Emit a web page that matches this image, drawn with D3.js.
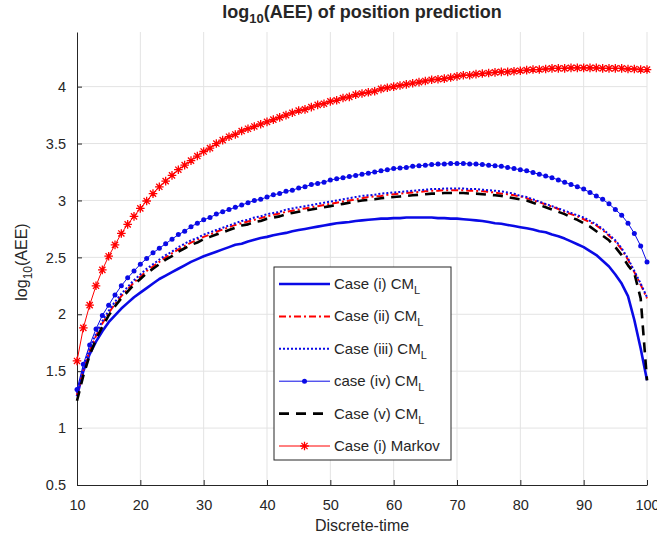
<!DOCTYPE html>
<html>
<head>
<meta charset="utf-8">
<script src="https://cdn.jsdelivr.net/npm/d3@7"></script>
<style>
body { margin: 0; background: #fff; }
text { font-family: "Liberation Sans", Arial, sans-serif; fill: #262626; }
</style>
</head>
<body>
<div id="chart-area"></div>
<script>
// time steps
var steps = [10,11,12,13,14,15,16,17,18,19,20,21,22,23,24,25,26,27,28,29,30,
  31,32,33,34,35,36,37,38,39,40,41,42,43,44,45,46,47,48,49,50,
  51,52,53,54,55,56,57,58,59,60,61,62,63,64,65,66,67,68,69,70,
  71,72,73,74,75,76,77,78,79,80,81,82,83,84,85,86,87,88,89,90,
  91,92,93,94,95,96,97,98,99,100];

var caseI = [1.28,1.50,1.65,1.76,1.85,1.93,1.99,2.05,2.10,2.15,2.19,
  2.23,2.27,2.31,2.34,2.37,2.40,2.43,2.46,2.485,2.51,
  2.53,2.55,2.57,2.59,2.61,2.62,2.64,2.655,2.67,2.68,
  2.695,2.705,2.715,2.73,2.74,2.75,2.76,2.77,2.78,2.79,
  2.80,2.805,2.81,2.82,2.825,2.83,2.835,2.84,2.84,2.845,
  2.845,2.85,2.85,2.85,2.85,2.85,2.845,2.845,2.84,2.84,
  2.835,2.83,2.825,2.82,2.81,2.80,2.795,2.785,2.775,2.765,
  2.755,2.745,2.73,2.72,2.70,2.685,2.665,2.64,2.615,2.59,
  2.555,2.52,2.47,2.42,2.35,2.27,2.16,1.95,1.70,1.42];

var caseII = [1.29,1.51,1.68,1.81,1.92,2.01,2.09,2.16,2.22,2.28,2.33,
  2.38,2.42,2.46,2.50,2.535,2.57,2.60,2.63,2.655,2.68,
  2.70,2.725,2.745,2.765,2.785,2.80,2.815,2.83,2.845,2.86,
  2.875,2.885,2.90,2.91,2.92,2.93,2.94,2.95,2.96,2.97,
  2.98,2.99,3.00,3.01,3.02,3.03,3.035,3.04,3.05,3.055,
  3.06,3.065,3.07,3.075,3.08,3.085,3.085,3.09,3.09,3.09,
  3.09,3.085,3.085,3.08,3.075,3.07,3.06,3.055,3.045,3.035,
  3.02,3.00,2.985,2.965,2.945,2.925,2.90,2.88,2.86,2.835,
  2.81,2.78,2.74,2.69,2.64,2.57,2.48,2.37,2.26,2.14];

var caseIII = [1.31,1.53,1.70,1.83,1.94,2.03,2.11,2.18,2.24,2.30,2.35,
  2.40,2.44,2.48,2.52,2.55,2.59,2.62,2.65,2.67,2.70,
  2.72,2.74,2.76,2.78,2.80,2.82,2.83,2.85,2.86,2.88,
  2.89,2.90,2.92,2.93,2.94,2.95,2.96,2.97,2.98,2.99,
  3.00,3.01,3.02,3.03,3.04,3.045,3.05,3.06,3.065,3.07,
  3.075,3.08,3.085,3.09,3.095,3.10,3.10,3.105,3.105,3.105,
  3.105,3.10,3.10,3.095,3.09,3.085,3.08,3.07,3.06,3.04,
  3.03,3.01,2.99,2.97,2.95,2.93,2.91,2.89,2.87,2.85,
  2.82,2.79,2.75,2.70,2.65,2.58,2.49,2.38,2.27,2.15];

var caseIV = [1.34,1.56,1.73,1.87,1.99,2.08,2.17,2.25,2.32,2.38,2.44,
  2.49,2.54,2.58,2.62,2.66,2.70,2.73,2.77,2.80,2.83,
  2.85,2.88,2.90,2.92,2.94,2.96,2.98,3.00,3.01,3.03,
  3.05,3.06,3.08,3.09,3.11,3.12,3.14,3.15,3.16,3.18,
  3.19,3.20,3.21,3.22,3.23,3.24,3.25,3.26,3.27,3.28,
  3.285,3.29,3.30,3.305,3.31,3.315,3.32,3.32,3.325,3.325,
  3.325,3.32,3.32,3.315,3.31,3.305,3.30,3.29,3.28,3.27,
  3.26,3.245,3.23,3.215,3.20,3.18,3.16,3.14,3.12,3.10,
  3.07,3.04,3.01,2.97,2.92,2.87,2.80,2.71,2.60,2.46];

var caseV = [1.24,1.46,1.64,1.78,1.89,1.99,2.07,2.14,2.20,2.26,2.31,
  2.36,2.40,2.44,2.48,2.51,2.55,2.58,2.61,2.63,2.66,
  2.68,2.70,2.72,2.74,2.76,2.78,2.79,2.81,2.82,2.84,
  2.85,2.86,2.88,2.89,2.90,2.91,2.92,2.93,2.94,2.95,
  2.96,2.97,2.98,2.99,3.00,3.005,3.01,3.02,3.025,3.03,
  3.035,3.04,3.045,3.05,3.055,3.06,3.06,3.065,3.065,3.065,
  3.065,3.06,3.06,3.055,3.05,3.045,3.04,3.03,3.02,3.01,
  3.00,2.98,2.96,2.94,2.92,2.90,2.88,2.85,2.83,2.80,
  2.77,2.73,2.69,2.65,2.59,2.52,2.43,2.36,2.14,1.42];

var markov = [1.59,1.88,2.08,2.25,2.39,2.51,2.61,2.71,2.79,2.86,2.93,
  2.995,3.06,3.12,3.17,3.22,3.27,3.31,3.35,3.39,3.43,
  3.46,3.50,3.53,3.56,3.58,3.61,3.63,3.65,3.67,3.69,
  3.71,3.73,3.75,3.77,3.79,3.80,3.82,3.84,3.85,3.87,
  3.88,3.90,3.91,3.93,3.94,3.95,3.96,3.98,3.99,4.00,
  4.01,4.02,4.03,4.04,4.05,4.06,4.065,4.07,4.08,4.09,
  4.10,4.10,4.11,4.115,4.12,4.125,4.13,4.13,4.135,4.14,
  4.145,4.15,4.15,4.155,4.16,4.16,4.16,4.165,4.165,4.165,
  4.165,4.165,4.16,4.16,4.16,4.16,4.155,4.155,4.15,4.15];

var xTicks = [10,20,30,40,50,60,70,80,90,100];
var yTicks = [0.5,1,1.5,2,2.5,3,3.5,4];

var blue = "#0a0ae6", red = "#ff0000";

var series = [
  {name: "Case (i) CM", sub: "L", values: caseI, color: blue, width: 2.6, dash: null, marker: null},
  {name: "Case (ii) CM", sub: "L", values: caseII, color: red, width: 2, dash: "7,3,2,3", marker: null},
  {name: "Case (iii) CM", sub: "L", values: caseIII, color: blue, width: 2, dash: "2,2", marker: null},
  {name: "case (iv) CM", sub: "L", values: caseIV, color: blue, width: 1, dash: null, marker: "dot"},
  {name: "Case (v) CM", sub: "L", values: caseV, color: "#000", width: 2.6, dash: "10,7", marker: null},
  {name: "Case (i) Markov", sub: "", values: markov, color: red, width: 1, dash: null, marker: "star"}
];

var margin = {top: 32, right: 10, bottom: 60, left: 77};
var width = 657 - margin.left - margin.right;
var height = 545 - margin.top - margin.bottom;

var svg = d3.select("#chart-area").append("svg")
  .attr("width", 657)
  .attr("height", 545);

var g = svg.append("g")
  .attr("transform", "translate(" + margin.left + "," + margin.top + ")");

var xscale = d3.scaleLinear().domain([10, 100]).range([0, width]);
var yscale = d3.scaleLinear().domain([0.5, 4.48]).range([height, 0]);

// grid
g.selectAll(".vgrid").data(xTicks.slice(1)).enter().append("line")
  .attr("x1", function(d){ return xscale(d); })
  .attr("x2", function(d){ return xscale(d); })
  .attr("y1", 0).attr("y2", height)
  .attr("stroke", "#e3e3e3").attr("stroke-width", 1);

g.selectAll(".hgrid").data(yTicks.slice(1)).enter().append("line")
  .attr("x1", 0).attr("x2", width)
  .attr("y1", function(d){ return yscale(d); })
  .attr("y2", function(d){ return yscale(d); })
  .attr("stroke", "#e3e3e3").attr("stroke-width", 1);

// axes
var bottomaxis = d3.axisBottom(xscale).tickValues(xTicks).tickSizeInner(-5).tickSizeOuter(0).tickPadding(15);
var leftaxis = d3.axisLeft(yscale).tickValues(yTicks).tickSizeInner(-5).tickSizeOuter(0).tickPadding(11)
  .tickFormat(function(d){ return String(d); });

var xg = g.append("g").attr("transform", "translate(0," + height + ")").call(bottomaxis);
var yg = g.append("g").call(leftaxis);
[xg, yg].forEach(function(a){
  a.select(".domain").attr("stroke", "#262626");
  a.selectAll(".tick line").attr("stroke", "#262626");
  a.selectAll(".tick text").style("font-size", "14.5px").attr("fill", "#333")
    .style("font-family", "'Liberation Sans', Arial, sans-serif");
});

// curves
var line = d3.line()
  .x(function(d, i){ return xscale(steps[i]); })
  .y(function(d){ return yscale(d); });

function starPath(r) {
  var k = r * 0.72;
  return "M0," + (-r) + "V" + r + "M" + (-r) + ",0H" + r +
    "M" + (-k) + "," + (-k) + "L" + k + "," + k + "M" + (-k) + "," + k + "L" + k + "," + (-k);
}

series.forEach(function(s){
  g.append("path")
    .attr("d", line(s.values))
    .attr("fill", "none")
    .attr("stroke", s.color)
    .attr("stroke-width", s.width)
    .attr("stroke-dasharray", s.dash)
    .attr("stroke-linejoin", "round");

  if (s.marker == "dot") {
    g.selectAll(null).data(s.values).enter().append("circle")
      .attr("cx", function(d, i){ return xscale(steps[i]); })
      .attr("cy", function(d){ return yscale(d); })
      .attr("r", 2.5)
      .attr("fill", s.color);
  } else if (s.marker == "star") {
    g.selectAll(null).data(s.values).enter().append("path")
      .attr("d", starPath(4.3))
      .attr("transform", function(d, i){ return "translate(" + xscale(steps[i]) + "," + yscale(d) + ")"; })
      .attr("fill", "none")
      .attr("stroke", s.color)
      .attr("stroke-width", 1.3);
  }
});

// legend
var legend = svg.append("g").attr("transform", "translate(274,267)");
legend.append("rect")
  .attr("width", 177).attr("height", 193)
  .attr("fill", "#fff").attr("stroke", "#262626").attr("stroke-width", 1);

series.forEach(function(s, i){
  var y = 17 + i * 32.4;
  legend.append("line")
    .attr("x1", 5).attr("x2", 56).attr("y1", y).attr("y2", y)
    .attr("stroke", s.color).attr("stroke-width", s.width)
    .attr("stroke-dasharray", s.dash);
  if (s.marker == "dot") {
    legend.append("circle").attr("cx", 30.5).attr("cy", y).attr("r", 2.5).attr("fill", s.color);
  } else if (s.marker == "star") {
    legend.append("path").attr("d", starPath(4.3))
      .attr("transform", "translate(30.5," + y + ")")
      .attr("fill", "none").attr("stroke", s.color).attr("stroke-width", 1.3);
  }
  var t = legend.append("text")
    .attr("x", 60).attr("y", y + 5)
    .style("font-size", "15px")
    .text(s.name);
  if (s.sub) {
    t.append("tspan").attr("dy", 5).style("font-size", "11px").text(s.sub);
  }
});

// title and labels
var title = svg.append("text")
  .attr("x", 362).attr("y", 18)
  .attr("text-anchor", "middle")
  .style("font-size", "18px").style("font-weight", "bold")
  .attr("fill", "#000");
title.append("tspan").text("log");
title.append("tspan").attr("dy", 5).style("font-size", "13px").text("10");
title.append("tspan").attr("dy", -5).text("(AEE) of position prediction");

svg.append("text")
  .attr("x", 362).attr("y", 531)
  .attr("text-anchor", "middle")
  .style("font-size", "16px")
  .text("Discrete-time");

var ylabel = svg.append("text")
  .attr("transform", "translate(27,262) rotate(-90)")
  .attr("text-anchor", "middle")
  .style("font-size", "16px");
ylabel.append("tspan").text("log");
ylabel.append("tspan").attr("dy", 5).style("font-size", "12px").text("10");
ylabel.append("tspan").attr("dy", -5).text("(AEE)");
</script>
</body>
</html>
